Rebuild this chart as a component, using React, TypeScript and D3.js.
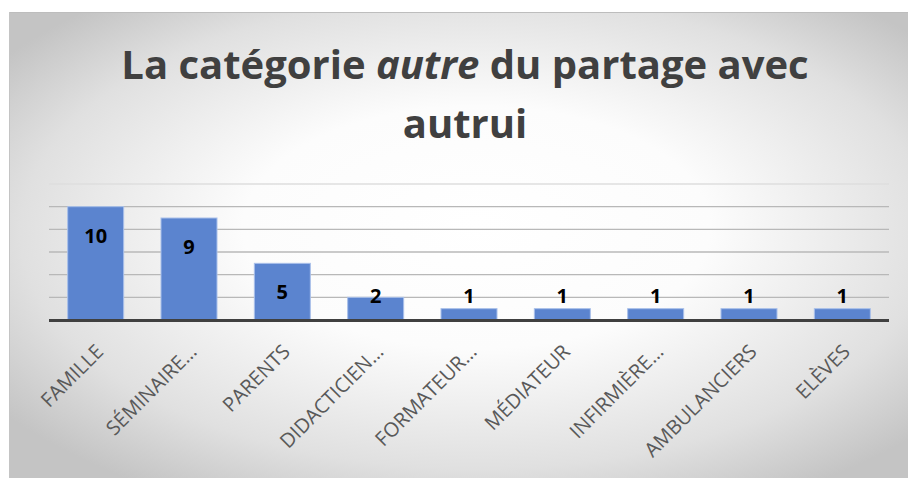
import React from "react";
import * as d3 from "d3";

const categories = ["FAMILLE", "SÉMINAIRE…", "PARENTS", "DIDACTICIEN…", "FORMATEUR…", "MÉDIATEUR", "INFIRMIÈRE…", "AMBULANCIERS", "ELÈVES"];
const values = [10, 9, 5, 2, 1, 1, 1, 1, 1];
const gridTicks = [2, 4, 6, 8, 10, 12];

const W = 908;
const H = 478;

export default function App() {
  const x = d3.scaleBand<string>().domain(categories).range([49, 889]).paddingInner(0.4).paddingOuter(0.2);
  const y = d3.scaleLinear().domain([0, 12]).range([320, 184]);
  const bw = x.bandwidth();

  return (
    <svg width={W} height={H} style={{ position: "absolute", left: 0, top: 0 }}>
      <defs>
        <radialGradient id="bg" cx="0.52" cy="0.48" r="0.65" fx="0.52" fy="0.45">
          <stop offset="0" stopColor="#ffffff" />
          <stop offset="0.4" stopColor="#fcfcfc" />
          <stop offset="0.78" stopColor="#e0e0e0" />
          <stop offset="1" stopColor="#c4c4c4" />
        </radialGradient>
      </defs>
      <rect x={9} y={12} width={W - 9} height={H - 12} fill="url(#bg)" />
      <line x1={9} x2={W} y1={12.5} y2={12.5} stroke="#bdbdbd" strokeWidth={1} />
      <line x1={9.5} x2={9.5} y1={12} y2={H} stroke="#c4c4c4" strokeWidth={1} />

      <text x={465} y={79} textAnchor="middle" fontFamily="'Open Sans', sans-serif" fontWeight="bold" fontSize={40} fill="#404040">
        La catégorie <tspan fontStyle="italic">autre</tspan> du partage avec
      </text>
      <text x={465} y={138} textAnchor="middle" fontFamily="'Open Sans', sans-serif" fontWeight="bold" fontSize={40} fill="#404040">
        autrui
      </text>

      {gridTicks.map((t) => (
        <line key={t} x1={49} x2={889} y1={y(t)} y2={y(t)} stroke={t === 12 ? "#dedede" : "#b8b8b8"} strokeWidth={1.3} />
      ))}

      {categories.map((c, i) => (
        <rect key={c} x={x(c)} y={y(values[i])} width={bw} height={y(0) - y(values[i])} fill="#5b84cf" stroke="#a9c0ea" strokeWidth={1} />
      ))}

      <line x1={49} x2={889} y1={y(0) + 0.5} y2={y(0) + 0.5} stroke="#404040" strokeWidth={3} />

      {categories.map((c, i) => {
        const cx = (x(c) as number) + bw / 2;
        const cy = Math.min(y(values[i]) + 29, y(0) - 24);
        return (
          <text key={c} x={cx} y={cy} dy="0.35em" textAnchor="middle" fontFamily="'Open Sans', sans-serif" fontWeight="bold" fontSize={20} fill="#000000">
            {values[i]}
          </text>
        );
      })}

      {categories.map((c) => {
        const cx = (x(c) as number) + bw / 2;
        const ax = cx + 9;
        const ay = 353;
        return (
          <text key={c} transform={`translate(${ax},${ay}) rotate(-45)`} textAnchor="end" fontFamily="'Open Sans', sans-serif" fontSize={20} fill="#595959">
            {c}
          </text>
        );
      })}
    </svg>
  );
}
